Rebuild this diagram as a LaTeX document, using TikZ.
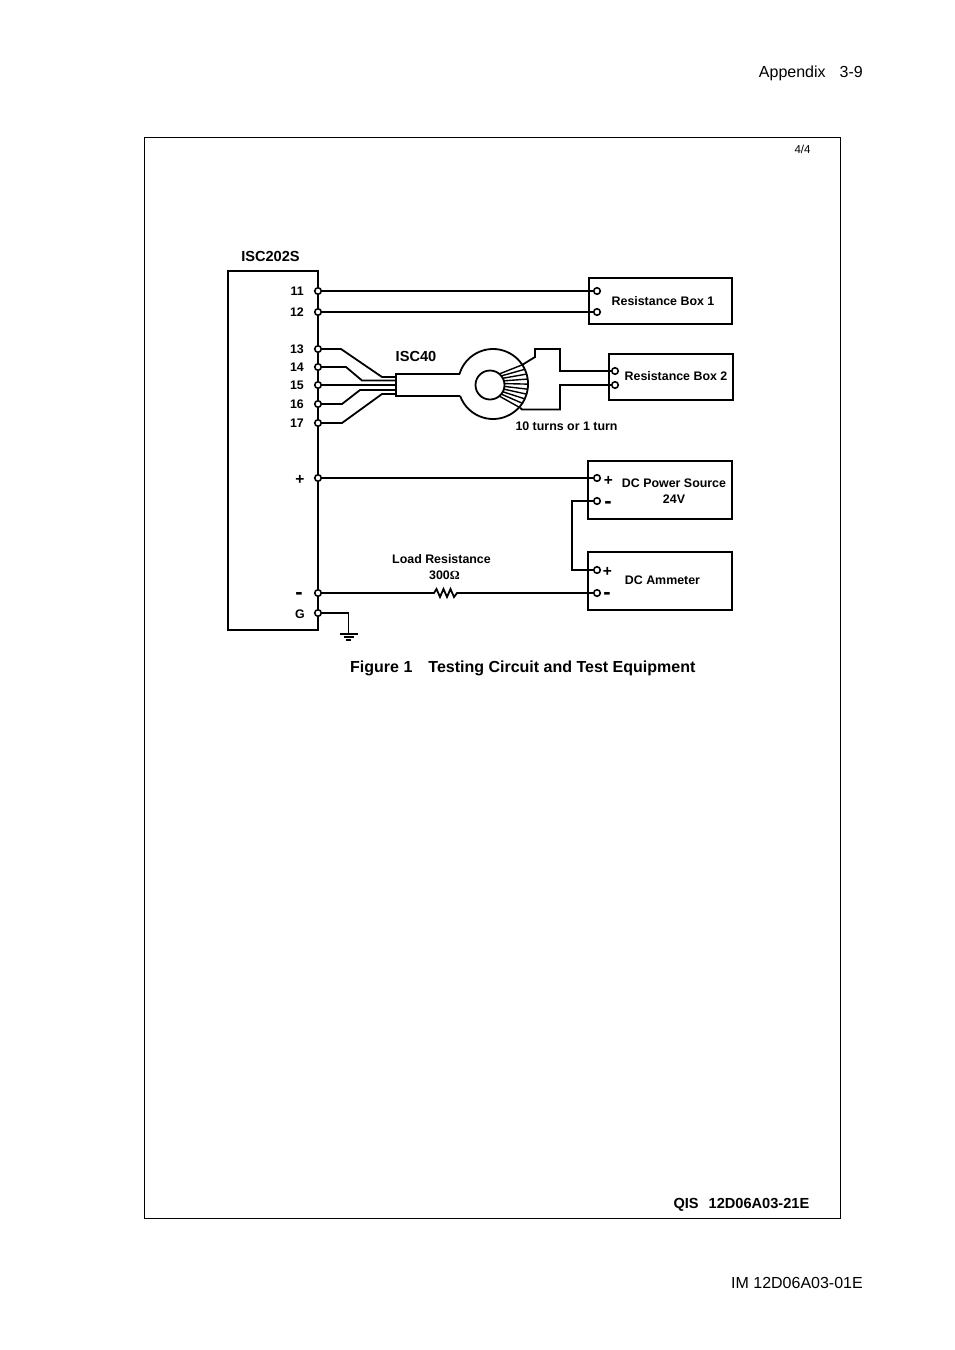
\documentclass[tikz,border=0pt]{standalone}
\usepackage{fontspec}
\setmainfont{Liberation Sans}
\newfontfamily\ohmfont{Liberation Serif}
\usetikzlibrary{calc}
\tikzset{
    wire/.style={line width=1.8pt},
    unit/.style={draw, line width=1.7pt, inner sep=0pt},
    term/.style={circle, draw, fill=white, line width=1.6pt, inner sep=0pt, minimum size=6.5pt},
    lbl/.style={font=\fontsize{12.4}{15.5}\selectfont\bfseries, align=center, inner sep=0pt},
    sign/.style={font=\fontsize{15.5}{15.5}\selectfont\bfseries, inner sep=0pt},
    bigsign/.style={font=\fontsize{22}{22}\selectfont\bfseries, inner sep=0pt},
    txt/.style={font=\fontsize{16}{18}\selectfont, inner sep=0pt},
    head/.style={font=\fontsize{14.6}{17}\selectfont\bfseries, inner sep=0pt}
}
\begin{document}
\begin{tikzpicture}[x=1pt, y=1pt, yscale=-1]
\useasboundingbox (0,0) rectangle (954,1350);
% page frame and page texts
\node[draw, line width=0.8pt, inner sep=0pt, minimum width=696pt, minimum height=1081pt] (frame) at (492,677.5) {};
\node[txt, anchor=east] (page) at (863,73.5) {Appendix\hspace{14pt}3-9};
\node[lbl, font=\fontsize{11.5}{13}\selectfont] (sheet) at (802.5,149.5) {4/4};
\node[head, anchor=east] (qis) at (809.5,1205) {QIS\hspace{10pt}12D06A03-21E};
\node[txt, anchor=east] (doc) at (863,1282.5) {IM 12D06A03-01E};
\node[head, anchor=west, font=\fontsize{16}{18}\selectfont\bfseries] (caption) at (350,668) {Figure 1\hspace{16pt}Testing Circuit and Test Equipment};
% boxes
\node[unit, minimum width=90pt, minimum height=359pt] (isc) at (273,450.5) {};
\node[unit, minimum width=143pt, minimum height=46pt] (boxa) at (660.5,301) {};
\node[unit, minimum width=124pt, minimum height=46pt] (boxb) at (671,377) {};
\node[unit, minimum width=144pt, minimum height=58pt] (dcsrc) at (660,490) {};
\node[unit, minimum width=144pt, minimum height=58pt] (amm) at (660,581) {};
\node[head] (iscname) at (270.5,256.5) {ISC202S};
\node[lbl] (boxatxt) at (663,301.5) {Resistance Box 1};
\node[lbl] (boxbtxt) at (676,376.5) {Resistance Box 2};
\node[lbl] (dctxt) at (674,491) {DC Power Source\\24V};
\node[lbl] (ammtxt) at (662.5,580.5) {DC Ammeter};
\node[head] (isclbl) at (416,356) {ISC40};
\node[lbl] (turns) at (566.5,426.5) {10 turns or 1 turn};
\node[lbl] (loadtxt) at (441.5,567) {Load Resistance\\\hspace{6pt}300{\ohmfont Ω}};
% terminals on the left side
\foreach \n/\y in {11/291,12/312,13/349,14/367,15/385,16/404,17/423}
{
    \node[term] (t\n) at (318,\y) {};
    \node[lbl, anchor=east] (n\n) at (304,\y) {\n};
}
\node[term] (tp) at (318,478) {};
\node[term] (tm) at (318,593) {};
\node[term] (tg) at (318,613) {};
\node[sign] (sp) at (300,480) {+};
\node[bigsign] (sm) at (299,596) {-};
\node[lbl] (sg) at (300,614.5) {G};
% terminals on the boxes
\node[term] (a1) at (597,291) {};
\node[term] (a2) at (597,312) {};
\node[term] (b1) at (615,371) {};
\node[term] (b2) at (615,385) {};
\node[term] (d1) at (597,478) {};
\node[term] (d2) at (597,501) {};
\node[term] (m1) at (597,570) {};
\node[term] (m2) at (597,593) {};
\node[sign] (d1s) at (608.5,481) {+};
\node[bigsign] (d2s) at (608,505) {-};
\node[sign] (m1s) at (607.5,572) {+};
\node[bigsign] (m2s) at (607,596) {-};
% plain wires
\draw[wire] (t11) -- (a1);
\draw[wire] (t12) -- (a2);
\draw[wire] (tp) -- (d1);
\draw[wire] (d2) -| (572,570) -- (m1);
% isc40 leads
\coordinate (cable) at (396,385);
\draw[wire] (t13) -- (341,349) -- (382,377) -- (396,377);
\draw[wire] (t14) -- (346,367) -- (362,380.5) -- (396,380.5);
\draw[wire] (t15) -- (cable);
\draw[wire] (t16) -- (342,404) -- (360,390) -- (396,390);
\draw[wire] (t17) -- (342,423) -- (382,394) -- (396,394);
% torus with cable
\coordinate (core) at (493,384);
\coordinate (hole) at (490,385);
\draw[wire] (459.5,374) -- (396,374) -- (396,396) -- (459.5,396);
\draw[wire] (459.5,374) arc[start angle=196.6, end angle=520, radius=35];
\draw[wire] (hole) circle[radius=14.5];
\foreach \i in {0,...,9}
    \draw[line width=1.4pt] ($(hole)+({-50+\i*100/9}:14.5)$) -- ($(hole)+({-32+\i*69/9}:38)$);
% turns out to box 2
\draw[wire] ($(hole)+(-32:38)$) -- (535,357) -- (535,349) -- (560,349) -- (560,371) -- (b1);
\draw[wire] ($(hole)+(37:38)$) -- (522,409.5) -- (560,409.5) -- (560,385) -- (b2);
% load resistance
\coordinate (ra) at (434,593);
\coordinate (rb) at (457,593);
\draw[wire] (tm) -- (ra) -- (436.5,589) -- (440,597) -- (443.5,589) -- (447,597) -- (450.5,589) -- (454,597) -- (rb) -- (m2);
% ground
\draw[wire] (tg) -- (348.5,613) -- (348.5,633);
\coordinate (gnd) at (348.5,634);
\draw[wire] ($(gnd)+(-9,0)$) -- ($(gnd)+(9,0)$);
\draw[wire] ($(gnd)+(-5,3)$) -- ($(gnd)+(5,3)$);
\draw[wire] ($(gnd)+(-2.5,6)$) -- ($(gnd)+(2.5,6)$);
\end{tikzpicture}
\end{document}
